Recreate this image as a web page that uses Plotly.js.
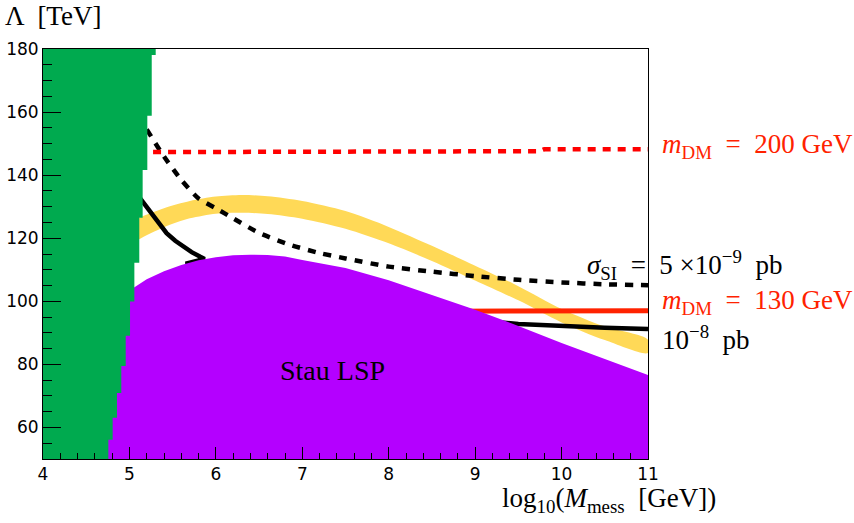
<!DOCTYPE html>
<html>
<head>
<meta charset="utf-8">
<script src="https://cdn.plot.ly/plotly-3.0.1.min.js"></script>
<style>html,body{margin:0;padding:0;background:#fff;}</style>
</head>
<body>
<div id="chart" style="width:854px;height:523px;"></div>
<script>
// Green excluded region: step boundary (right edge x for each y band)
const greenEdgeX  = [4.756, 4.806, 4.856, 4.906, 4.957, 5.007, 5.057, 5.114, 5.153, 5.207, 5.258, 5.304];
const greenYLow   = [50.0, 56.1, 63.1, 70.9, 79.5, 89.1, 99.9, 112.2, 126.5, 141.6, 158.8, 178.1];
const greenYHigh  = [56.1, 63.1, 70.9, 79.5, 89.1, 99.9, 112.2, 126.5, 141.6, 158.8, 178.1, 180.0];

// Stau LSP region upper boundary
const stauX = [4.7, 4.9, 5.057, 5.2, 5.4, 5.6, 5.8, 6.0, 6.2, 6.4, 6.6, 6.8, 7.0, 7.5, 8.0, 8.5, 9.0, 9.5, 10.0, 10.5, 11.0];
const stauY = [98.0, 101.5, 104.5, 107.0, 109.5, 111.5, 113.0, 114.0, 114.6, 114.8, 114.7, 114.2, 113.1, 110.6, 106.7, 102.1, 97.3, 92.2, 86.8, 81.7, 76.6];

// Yellow band
const bandX     = [4.9, 5.1, 5.4, 5.7, 6.0, 6.3, 6.6, 7.0, 7.5, 8.0, 8.5, 9.0, 9.5, 10.0, 10.5, 11.0];
const bandUpper = [123.0, 126.3, 129.5, 131.8, 133.2, 133.7, 133.3, 131.8, 128.6, 123.6, 117.6, 111.3, 104.8, 97.6, 92.0, 87.8];
const bandLower = [115.5, 119.5, 123.5, 126.3, 127.8, 128.1, 127.7, 126.2, 123.0, 118.4, 112.8, 106.6, 100.3, 93.3, 87.7, 83.6];

// sigma_SI = 5e-9 pb (dashed black)
const sig5X = [5.2, 5.4, 5.6, 5.8, 6.0, 6.2, 6.5, 6.86, 7.2, 7.5, 8.0, 8.5, 9.0, 9.5, 10.0, 10.5, 11.0];
const sig5Y = [154.5, 145.9, 138.5, 132.6, 129.5, 126.3, 121.7, 117.9, 115.3, 113.6, 111.0, 109.4, 108.0, 106.8, 106.0, 105.4, 105.1];

// sigma_SI = 1e-8 pb (solid black)
const sig10X = [5.1, 5.153, 5.2, 5.3, 5.43, 5.53, 5.62, 5.72, 5.82, 5.87, 5.65, 7.0, 8.0, 9.0, 9.5, 10.0, 10.5, 11.0];
const sig10Y = [133.5, 131.6, 129.8, 126.0, 121.6, 119.2, 117.3, 115.6, 114.1, 113.4, 111.9, 105.5, 100.0, 94.0, 92.8, 92.1, 91.6, 91.2];

// m_DM = 200 GeV (dashed red)
const m200X = [5.1, 6.45, 6.5, 9.75, 9.8, 11.0];
const m200Y = [147.3, 147.3, 147.6, 147.6, 148.2, 148.2];

// m_DM = 130 GeV (solid red)
const m130X = [8.0, 9.3, 9.35, 11.0];
const m130Y = [96.8, 96.8, 97.0, 97.0];

// Build green polygon from step arrays
const gX = [4.0], gY = [50.0];
for (let i = 0; i < greenEdgeX.length; i++) {
  gX.push(greenEdgeX[i], greenEdgeX[i]);
  gY.push(greenYLow[i], greenYHigh[i]);
}
gX.push(4.0); gY.push(180.0);

const RED = '#ff2200';
const traces = [
  {x: bandX.concat(bandX.slice().reverse()), y: bandUpper.concat(bandLower.slice().reverse()),
   type: 'scatter', mode: 'lines', fill: 'toself', fillcolor: '#ffd957',
   line: {width: 0, shape: 'spline', smoothing: 0.8}, hoverinfo: 'skip'},
  {x: sig5X, y: sig5Y, type: 'scatter', mode: 'lines', line: {color: '#000', width: 4.5, dash: '8px,8px', shape: 'spline', smoothing: 0.6}},
  {x: m200X, y: m200Y, type: 'scatter', mode: 'lines', line: {color: '#ff0000', width: 4.5, dash: '8px,7px'}},
  {x: m130X, y: m130Y, type: 'scatter', mode: 'lines', line: {color: RED, width: 5}},
  {x: sig10X, y: sig10Y, type: 'scatter', mode: 'lines', line: {color: '#000', width: 4.5}},
  {x: stauX.concat([11.0, 4.7]), y: stauY.concat([50.0, 50.0]), type: 'scatter', mode: 'lines',
   fill: 'toself', fillcolor: '#b400ff', line: {width: 0}, hoverinfo: 'skip'},
  {x: gX, y: gY, type: 'scatter', mode: 'lines', fill: 'toself', fillcolor: '#00aa4f', line: {width: 0}, hoverinfo: 'skip'}
];

const serif = 'Liberation Serif, DejaVu Serif, serif';
const axisCommon = {
  showgrid: false, zeroline: false, showline: true, linecolor: '#000', linewidth: 1, mirror: true,
  ticks: 'inside', tickcolor: '#000', tickwidth: 1,
  tickfont: {family: 'DejaVu Sans, sans-serif', size: 17, color: '#000'}
};

const layout = {
  width: 854, height: 523,
  margin: {l: 43, r: 206, t: 49, b: 64},
  paper_bgcolor: '#fff', plot_bgcolor: '#fff',
  showlegend: false,
  xaxis: Object.assign({}, axisCommon, {range: [4, 11], dtick: 1, tick0: 4, ticklen: 12,
    minor: {dtick: 0.2, ticks: 'inside', ticklen: 6, tickcolor: '#000', tickwidth: 1}}),
  yaxis: Object.assign({}, axisCommon, {range: [50, 180], dtick: 20, tick0: 60, ticklen: 18,
    minor: {dtick: 5, ticks: 'inside', ticklen: 9, tickcolor: '#000', tickwidth: 1}}),
  annotations: [
    {text: 'Λ  [TeV]', xref: 'paper', yref: 'paper', x: -0.066, y: 1.08, xanchor: 'left', yanchor: 'middle',
     showarrow: false, font: {family: serif, size: 27, color: '#000'}},
    {text: 'log<sub>10</sub>(<i>M</i><sub>mess</sub>  [GeV])', xref: 'paper', yref: 'paper', x: 1.1157, y: -0.101,
     xanchor: 'right', yanchor: 'middle', showarrow: false, font: {family: serif, size: 27, color: '#000'}},
    {text: '<i>m</i><sub>DM</sub>  =  200 GeV', xref: 'paper', yref: 'paper', x: 1.0198, y: 0.763,
     xanchor: 'left', yanchor: 'middle', showarrow: false, font: {family: serif, size: 27, color: RED}},
    {text: '<i>σ</i><sub>SI</sub>  =  5 ×10<sup>−9</sup>  pb', xref: 'paper', yref: 'paper', x: 0.896, y: 0.473,
     xanchor: 'left', yanchor: 'middle', showarrow: false, font: {family: serif, size: 27, color: '#000'}},
    {text: '<i>m</i><sub>DM</sub>  =  130 GeV', xref: 'paper', yref: 'paper', x: 1.0198, y: 0.383,
     xanchor: 'left', yanchor: 'middle', showarrow: false, font: {family: serif, size: 27, color: RED}},
    {text: '10<sup>−8</sup>  pb', xref: 'paper', yref: 'paper', x: 1.0198, y: 0.295,
     xanchor: 'left', yanchor: 'middle', showarrow: false, font: {family: serif, size: 27, color: '#000'}},
    {text: 'Stau LSP', xref: 'paper', yref: 'paper', x: 0.479, y: 0.217,
     xanchor: 'center', yanchor: 'middle', showarrow: false, font: {family: serif, size: 28, color: '#000'}}
  ]
};

Plotly.newPlot('chart', traces, layout, {staticPlot: true, displayModeBar: false});
</script>
</body>
</html>
